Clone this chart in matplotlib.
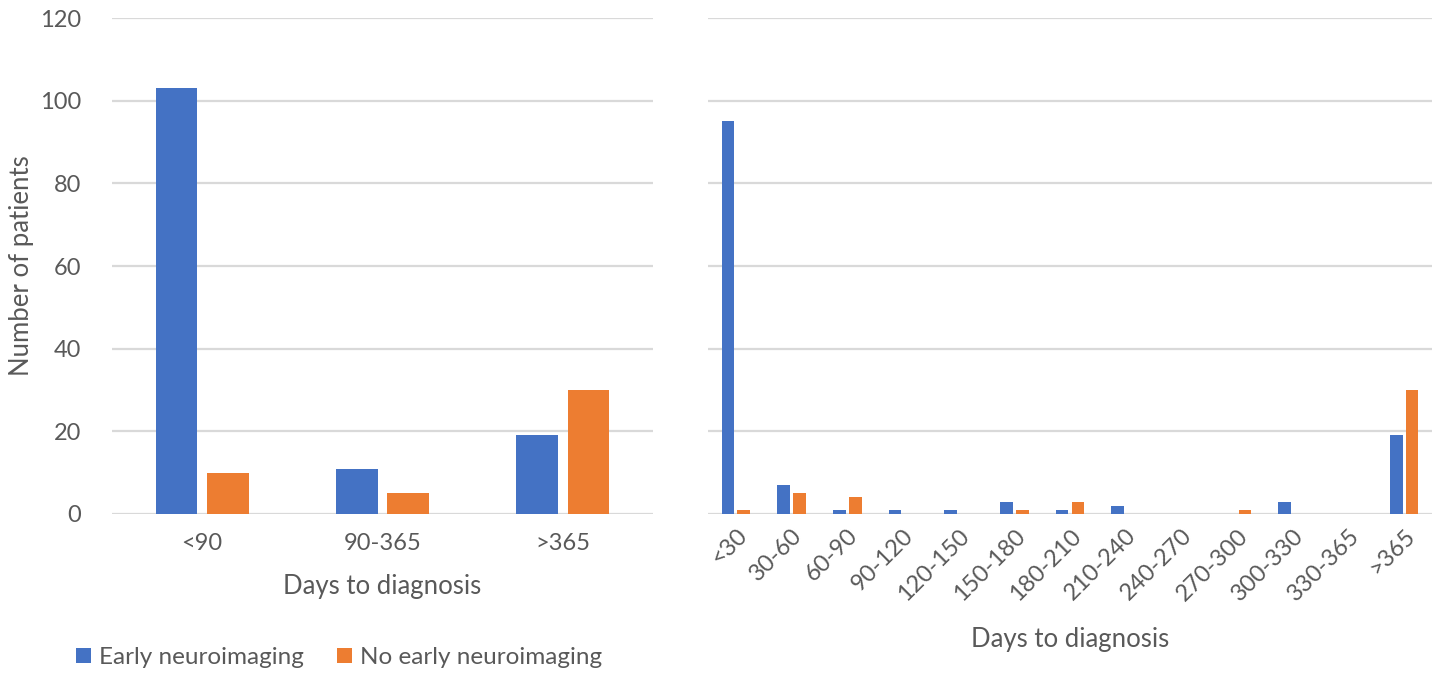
import matplotlib
matplotlib.use("Agg")
import matplotlib.pyplot as plt
import numpy as np

plt.rcParams['font.family'] = ['Lato', 'DejaVu Sans']

left_categories = ["<90", "90-365", ">365"]
left_early = [103, 11, 19]
left_no_early = [10, 5, 30]

right_categories = ["<30", "30-60", "60-90", "90-120", "120-150", "150-180", "180-210",
                    "210-240", "240-270", "270-300", "300-330", "330-365", ">365"]
right_early = [95, 7, 1, 1, 1, 3, 1, 2, 0, 0, 3, 0, 19]
right_no_early = [1, 5, 4, 0, 0, 1, 3, 0, 0, 1, 0, 0, 30]

y_ticks = [0, 20, 40, 60, 80, 100, 120]

BLUE = "#4472C4"
ORANGE = "#ED7D31"
TEXT = "#595959"
GRID = "#D9D9D9"

W, H = 1434, 678
fig = plt.figure(figsize=(W / 100, H / 100), dpi=100)

def frac(x0, y0, x1, y1):
    return [x0 / W, 1 - y1 / H, (x1 - x0) / W, (y1 - y0) / H]

ax1 = fig.add_axes(frac(112, 18, 653, 514))
ax2 = fig.add_axes(frac(708, 18, 1432, 514))

bw = 0.23
off = 0.142
TICK_FS = 17
LABEL_FS = 18.5

for ax, cats, e, n in [(ax1, left_categories, left_early, left_no_early),
                       (ax2, right_categories, right_early, right_no_early)]:
    x = np.arange(len(cats))
    ax.bar(x - off, e, width=bw, color=BLUE, label="Early neuroimaging", zorder=3)
    ax.bar(x + off, n, width=bw, color=ORANGE, label="No early neuroimaging", zorder=3)
    ax.set_xlim(-0.5, len(cats) - 0.5)
    ax.set_ylim(0, 120)
    ax.set_yticks(y_ticks)
    ax.yaxis.grid(True, color=GRID, linewidth=1.6, zorder=0)
    ax.set_axisbelow(True)
    for s in ax.spines.values():
        s.set_visible(False)
    ax.tick_params(axis='both', length=0, colors=TEXT, labelsize=TICK_FS)
    ax.set_xticks(x)

ax1.set_xticklabels(left_categories)
ax1.tick_params(axis='x', pad=14)
ax1.tick_params(axis='y', pad=22)
fig.text(22 / W, 1 - 266 / H, "Number of patients", fontsize=LABEL_FS, color=TEXT,
         rotation=90, ha='center', va='center')
ax1.set_xlabel("Days to diagnosis", fontsize=LABEL_FS, color=TEXT, labelpad=14)

ax2.set_xticklabels(right_categories, rotation=45, ha='right', rotation_mode='anchor')
ax2.tick_params(axis='x', pad=8)
ax2.set_yticklabels([])
ax2.set_xlabel("Days to diagnosis", fontsize=LABEL_FS, color=TEXT, labelpad=16)

handles, labels = ax1.get_legend_handles_labels()
leg = fig.legend(handles, labels, loc='lower left', bbox_to_anchor=(0.038, -0.018),
                 ncol=2, frameon=False, fontsize=17.5, handlelength=0.6, handleheight=0.6,
                 handletextpad=0.35, columnspacing=1.35, labelcolor=TEXT)

fig.savefig("out.png", dpi=100)
